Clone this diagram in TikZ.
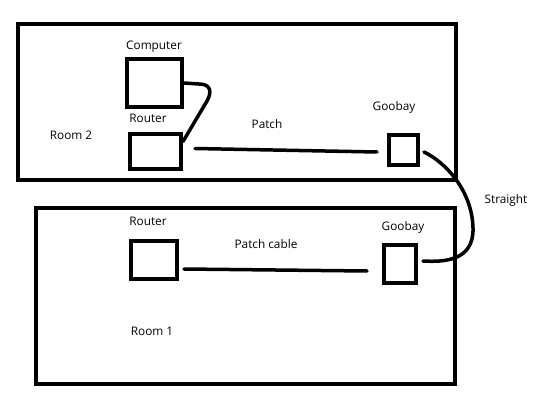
\documentclass[tikz,border=0pt]{standalone}
\usepackage{fontspec}
\setmainfont{Open Sans}
\usetikzlibrary{calc}
\begin{document}
\begin{tikzpicture}[x=1pt,y=-1pt,
  room/.style={draw,line width=4pt,inner sep=0pt},
  dev/.style={draw,line width=4pt,inner sep=0pt},
  cable/.style={line width=3.5pt,line cap=round},
  lbl/.style={font=\fontsize{11.8}{14}\selectfont,inner sep=0pt}]
\useasboundingbox (0,0) rectangle (540,414);
% rooms
\draw[line width=4pt] (18,24) rectangle (456,180);
\draw[line width=4pt] (35.5,208) rectangle (455,384);
% devices
\node[dev,minimum width=55pt,minimum height=48pt] (comp) at (154.5,83) {};
\node[dev,minimum width=51pt,minimum height=35pt] (r2) at (155.5,151.5) {};
\node[dev,minimum width=29pt,minimum height=30pt] (g2) at (403.5,150) {};
\node[dev,minimum width=46pt,minimum height=38pt] (r1) at (154,260) {};
\node[dev,minimum width=32pt,minimum height=38pt] (g1) at (400,264) {};
% labels
\node[lbl] (lcomp) at (154,47) {Computer};
\node[lbl] (lr2) at (148,118) {Router};
\node[lbl] (lroom2) at (71,135) {Room 2};
\node[lbl] (lpatch) at (267,124) {Patch};
\node[lbl] (lg2) at (394,107) {Goobay};
\node[lbl] (lstraight) at (506,200) {Straight};
\node[lbl] (lr1) at (148,221) {Router};
\node[lbl] (lpc) at (266,244) {Patch cable};
\node[lbl] (lg1) at (403,227) {Goobay};
\node[lbl] (lroom1) at (152,331) {Room 1};
% cables
\draw[cable] (comp.east) -- (199,84) .. controls (211,84) and (212,92) .. (207,101) -- (r2.20);
\draw[cable] ($(r2.east)+(12,-3)$) -- ($(g2.west)+(-10,2)$);
\draw[cable] ($(g2.east)+(4,2)$) .. controls (445,162) and (472,190) .. (473,228) .. controls (474,262) and (442,262) .. ($(g1.east)+(5,-3)$);
\draw[cable] ($(r1.east)+(5,9)$) -- ($(g1.west)+(-15,7)$);
\end{tikzpicture}
\end{document}
